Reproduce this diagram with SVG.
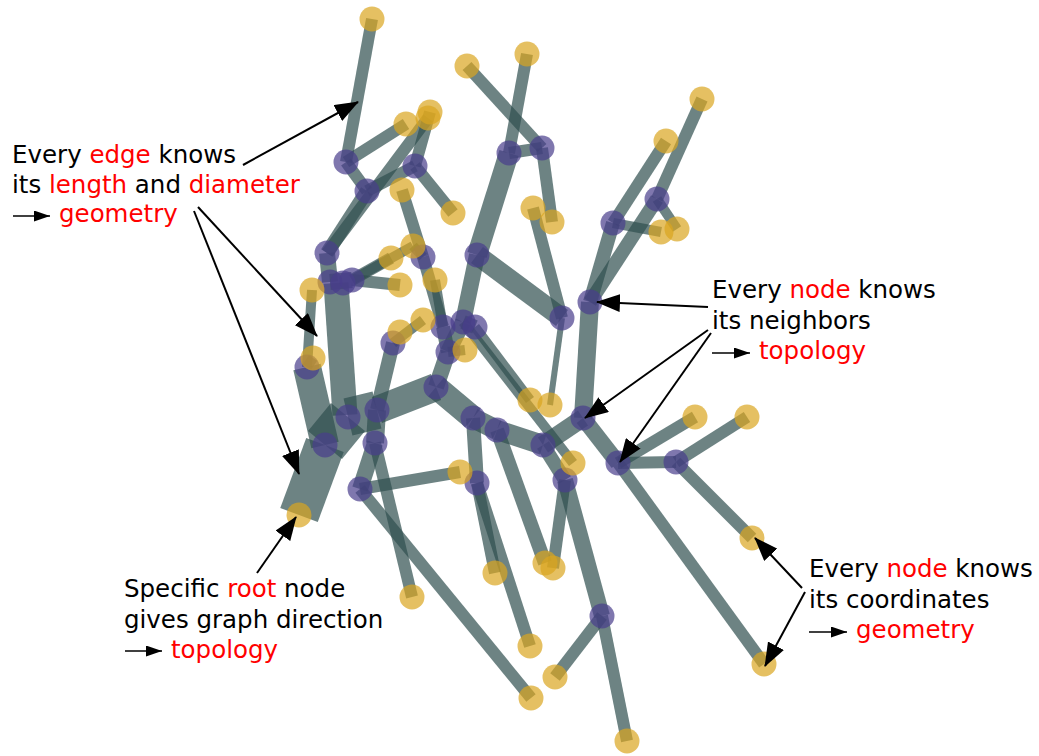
<svg xmlns="http://www.w3.org/2000/svg" width="1039" height="756" viewBox="0 0 1039 756">
  <style>
    .e { stroke: #2f4f4f; stroke-opacity: 0.7; stroke-linecap: butt; fill: none; }
    .inner { fill: #483d8b; fill-opacity: 0.7; }
    .leaf { fill: #daa520; fill-opacity: 0.7; }
    .lbl { font-family: "DejaVu Sans", sans-serif; font-size: 24.5px; fill: #000; }
    .hl { fill: #ff0000; }
    .ann { stroke: #000; stroke-width: 2; fill: none; }
    .imp { stroke: #000; stroke-width: 1.6; fill: none; }
  </style>
  <defs>
    <marker id="head" markerUnits="userSpaceOnUse" markerWidth="24" markerHeight="18" refX="23" refY="9" orient="auto">
      <path d="M0,0 L24,9 L0,18 z" fill="#000"/>
    </marker>
    <marker id="small-head" markerUnits="userSpaceOnUse" markerWidth="16" markerHeight="11" refX="16" refY="5.5" orient="auto">
      <path d="M0,0 L16,5.5 L0,11 z" fill="#000"/>
    </marker>
  </defs>

  <!-- tree edges, width follows diameter -->
  <g id="edges">
    <line class="e" x1="299" y1="515" x2="325" y2="445" stroke-width="40"/>
    <line class="e" x1="325" y1="445" x2="348" y2="417" stroke-width="44"/>
    <line class="e" x1="307" y1="367" x2="325" y2="445" stroke-width="28"/>
    <line class="e" x1="336" y1="283" x2="345" y2="415" stroke-width="25"/>
    <line class="e" x1="348" y1="417" x2="377" y2="410" stroke-width="38"/>
    <line class="e" x1="377" y1="410" x2="436" y2="387" stroke-width="28"/>
    <line class="e" x1="436" y1="387" x2="473" y2="418" stroke-width="24"/>
    <line class="e" x1="473" y1="418" x2="497" y2="430" stroke-width="20"/>
    <line class="e" x1="497" y1="430" x2="543" y2="445" stroke-width="20"/>
    <line class="e" x1="543" y1="445" x2="583" y2="418" stroke-width="18"/>
    <line class="e" x1="583" y1="418" x2="590" y2="302" stroke-width="18"/>
    <line class="e" x1="436" y1="387" x2="448" y2="352" stroke-width="16"/>
    <line class="e" x1="448" y1="352" x2="443" y2="327" stroke-width="14"/>
    <line class="e" x1="443" y1="327" x2="423" y2="257" stroke-width="12"/>
    <line class="e" x1="423" y1="257" x2="402" y2="190" stroke-width="12"/>
    <line class="e" x1="423" y1="257" x2="413" y2="246" stroke-width="10"/>
    <line class="e" x1="443" y1="327" x2="435" y2="280" stroke-width="10"/>
    <line class="e" x1="448" y1="352" x2="465" y2="350" stroke-width="10"/>
    <line class="e" x1="477" y1="255" x2="463" y2="322" stroke-width="16"/>
    <line class="e" x1="463" y1="322" x2="448" y2="352" stroke-width="16"/>
    <line class="e" x1="463" y1="322" x2="475" y2="327" stroke-width="14"/>
    <line class="e" x1="475" y1="327" x2="530" y2="400" stroke-width="10"/>
    <line class="e" x1="463" y1="322" x2="573" y2="463" stroke-width="10"/>
    <line class="e" x1="477" y1="255" x2="509" y2="153" stroke-width="20"/>
    <line class="e" x1="509" y1="153" x2="527" y2="54" stroke-width="12"/>
    <line class="e" x1="509" y1="153" x2="542" y2="148" stroke-width="12"/>
    <line class="e" x1="542" y1="148" x2="467" y2="66" stroke-width="12"/>
    <line class="e" x1="542" y1="148" x2="552" y2="222" stroke-width="12"/>
    <line class="e" x1="477" y1="255" x2="562" y2="318" stroke-width="20"/>
    <line class="e" x1="562" y1="318" x2="533" y2="208" stroke-width="12"/>
    <line class="e" x1="562" y1="318" x2="550" y2="405" stroke-width="6"/>
    <line class="e" x1="327" y1="253" x2="330" y2="282" stroke-width="16"/>
    <line class="e" x1="327" y1="253" x2="367" y2="191" stroke-width="14"/>
    <line class="e" x1="327" y1="253" x2="428" y2="118" stroke-width="12"/>
    <line class="e" x1="367" y1="191" x2="415" y2="166" stroke-width="12"/>
    <line class="e" x1="415" y1="166" x2="430" y2="112" stroke-width="12"/>
    <line class="e" x1="415" y1="166" x2="453" y2="213" stroke-width="12"/>
    <line class="e" x1="346" y1="162" x2="367" y2="191" stroke-width="12"/>
    <line class="e" x1="346" y1="162" x2="406" y2="124" stroke-width="12"/>
    <line class="e" x1="346" y1="162" x2="372" y2="19" stroke-width="12"/>
    <line class="e" x1="352" y1="280" x2="391" y2="258" stroke-width="12"/>
    <line class="e" x1="352" y1="280" x2="413" y2="246" stroke-width="10"/>
    <line class="e" x1="352" y1="280" x2="400" y2="285" stroke-width="12"/>
    <line class="e" x1="330" y1="282" x2="352" y2="280" stroke-width="16"/>
    <line class="e" x1="307" y1="367" x2="312" y2="290" stroke-width="10"/>
    <line class="e" x1="307" y1="367" x2="313" y2="358" stroke-width="10"/>
    <line class="e" x1="377" y1="410" x2="393" y2="343" stroke-width="14"/>
    <line class="e" x1="393" y1="343" x2="423" y2="320" stroke-width="10"/>
    <line class="e" x1="377" y1="410" x2="375" y2="443" stroke-width="18"/>
    <line class="e" x1="375" y1="443" x2="360" y2="489" stroke-width="16"/>
    <line class="e" x1="375" y1="443" x2="412" y2="597" stroke-width="12"/>
    <line class="e" x1="360" y1="489" x2="460" y2="472" stroke-width="12"/>
    <line class="e" x1="360" y1="489" x2="531" y2="698" stroke-width="12"/>
    <line class="e" x1="473" y1="418" x2="477" y2="483" stroke-width="14"/>
    <line class="e" x1="477" y1="483" x2="495" y2="573" stroke-width="12"/>
    <line class="e" x1="477" y1="483" x2="530" y2="646" stroke-width="12"/>
    <line class="e" x1="497" y1="430" x2="545" y2="563" stroke-width="14"/>
    <line class="e" x1="543" y1="445" x2="565" y2="480" stroke-width="14"/>
    <line class="e" x1="565" y1="480" x2="553" y2="568" stroke-width="12"/>
    <line class="e" x1="565" y1="480" x2="602" y2="616" stroke-width="16"/>
    <line class="e" x1="602" y1="616" x2="627" y2="741" stroke-width="12"/>
    <line class="e" x1="602" y1="616" x2="555" y2="677" stroke-width="12"/>
    <line class="e" x1="583" y1="418" x2="618" y2="463" stroke-width="16"/>
    <line class="e" x1="618" y1="463" x2="695" y2="417" stroke-width="12"/>
    <line class="e" x1="618" y1="463" x2="676" y2="462" stroke-width="12"/>
    <line class="e" x1="676" y1="462" x2="747" y2="417" stroke-width="12"/>
    <line class="e" x1="676" y1="462" x2="752" y2="538" stroke-width="12"/>
    <line class="e" x1="618" y1="463" x2="764" y2="664" stroke-width="12"/>
    <line class="e" x1="590" y1="302" x2="657" y2="199" stroke-width="14"/>
    <line class="e" x1="657" y1="199" x2="702" y2="99" stroke-width="12"/>
    <line class="e" x1="590" y1="302" x2="613" y2="223" stroke-width="14"/>
    <line class="e" x1="613" y1="223" x2="666" y2="141" stroke-width="12"/>
    <line class="e" x1="657" y1="199" x2="677" y2="229" stroke-width="10"/>
    <line class="e" x1="613" y1="223" x2="661" y2="232" stroke-width="10"/>
  </g>

  <!-- branching nodes -->
  <g id="inner-nodes">
    <circle id="n1" class="inner" cx="346" cy="162" r="12.5"/>
    <circle id="n2" class="inner" cx="367" cy="191" r="12.5"/>
    <circle id="n3" class="inner" cx="415" cy="166" r="12.5"/>
    <circle id="n4" class="inner" cx="327" cy="253" r="12.5"/>
    <circle id="n5" class="inner" cx="330" cy="282" r="12.5"/>
    <circle id="n6" class="inner" cx="343" cy="283" r="12.5"/>
    <circle id="n7" class="inner" cx="352" cy="280" r="12.5"/>
    <circle id="n8" class="inner" cx="307" cy="367" r="12.5"/>
    <circle id="n9" class="inner" cx="393" cy="343" r="12.5"/>
    <circle id="n10" class="inner" cx="423" cy="257" r="12.5"/>
    <circle id="n11" class="inner" cx="443" cy="327" r="12.5"/>
    <circle id="n12" class="inner" cx="463" cy="322" r="12.5"/>
    <circle id="n13" class="inner" cx="475" cy="327" r="12.5"/>
    <circle id="n14" class="inner" cx="448" cy="352" r="12.5"/>
    <circle id="n15" class="inner" cx="436" cy="387" r="12.5"/>
    <circle id="n16" class="inner" cx="477" cy="255" r="12.5"/>
    <circle id="n17" class="inner" cx="509" cy="153" r="12.5"/>
    <circle id="n18" class="inner" cx="542" cy="148" r="12.5"/>
    <circle id="n19" class="inner" cx="562" cy="318" r="12.5"/>
    <circle id="n20" class="inner" cx="590" cy="302" r="12.5"/>
    <circle id="n21" class="inner" cx="613" cy="223" r="12.5"/>
    <circle id="n22" class="inner" cx="657" cy="199" r="12.5"/>
    <circle id="n23" class="inner" cx="325" cy="445" r="12.5"/>
    <circle id="n24" class="inner" cx="348" cy="417" r="12.5"/>
    <circle id="n25" class="inner" cx="377" cy="410" r="12.5"/>
    <circle id="n26" class="inner" cx="375" cy="443" r="12.5"/>
    <circle id="n27" class="inner" cx="360" cy="489" r="12.5"/>
    <circle id="n28" class="inner" cx="473" cy="418" r="12.5"/>
    <circle id="n29" class="inner" cx="497" cy="430" r="12.5"/>
    <circle id="n30" class="inner" cx="543" cy="445" r="12.5"/>
    <circle id="n31" class="inner" cx="583" cy="418" r="12.5"/>
    <circle id="n32" class="inner" cx="618" cy="463" r="12.5"/>
    <circle id="n33" class="inner" cx="676" cy="462" r="12.5"/>
    <circle id="n34" class="inner" cx="477" cy="483" r="12.5"/>
    <circle id="n35" class="inner" cx="565" cy="480" r="12.5"/>
    <circle id="n36" class="inner" cx="602" cy="616" r="12.5"/>
  </g>

  <!-- end points and root -->
  <g id="leaf-nodes">
    <circle id="root" class="leaf" cx="299" cy="515" r="12.5"/>
    <circle id="l1" class="leaf" cx="372" cy="19" r="12.5"/>
    <circle id="l2" class="leaf" cx="467" cy="66" r="12.5"/>
    <circle id="l3" class="leaf" cx="527" cy="54" r="12.5"/>
    <circle id="l4" class="leaf" cx="406" cy="124" r="12.5"/>
    <circle id="l5" class="leaf" cx="430" cy="112" r="12.5"/>
    <circle id="l6" class="leaf" cx="428" cy="118" r="12.5"/>
    <circle id="l7" class="leaf" cx="402" cy="190" r="12.5"/>
    <circle id="l8" class="leaf" cx="453" cy="213" r="12.5"/>
    <circle id="l9" class="leaf" cx="533" cy="208" r="12.5"/>
    <circle id="l10" class="leaf" cx="552" cy="222" r="12.5"/>
    <circle id="l11" class="leaf" cx="702" cy="99" r="12.5"/>
    <circle id="l12" class="leaf" cx="666" cy="141" r="12.5"/>
    <circle id="l13" class="leaf" cx="661" cy="232" r="12.5"/>
    <circle id="l14" class="leaf" cx="677" cy="229" r="12.5"/>
    <circle id="l15" class="leaf" cx="312" cy="290" r="12.5"/>
    <circle id="l16" class="leaf" cx="391" cy="258" r="12.5"/>
    <circle id="l17" class="leaf" cx="413" cy="246" r="12.5"/>
    <circle id="l18" class="leaf" cx="400" cy="285" r="12.5"/>
    <circle id="l19" class="leaf" cx="435" cy="280" r="12.5"/>
    <circle id="l20" class="leaf" cx="313" cy="358" r="12.5"/>
    <circle id="l21" class="leaf" cx="400" cy="332" r="12.5"/>
    <circle id="l22" class="leaf" cx="423" cy="320" r="12.5"/>
    <circle id="l23" class="leaf" cx="465" cy="350" r="12.5"/>
    <circle id="l24" class="leaf" cx="530" cy="400" r="12.5"/>
    <circle id="l25" class="leaf" cx="550" cy="405" r="12.5"/>
    <circle id="l26" class="leaf" cx="573" cy="463" r="12.5"/>
    <circle id="l27" class="leaf" cx="695" cy="417" r="12.5"/>
    <circle id="l28" class="leaf" cx="747" cy="417" r="12.5"/>
    <circle id="l29" class="leaf" cx="460" cy="472" r="12.5"/>
    <circle id="l30" class="leaf" cx="495" cy="573" r="12.5"/>
    <circle id="l31" class="leaf" cx="545" cy="563" r="12.5"/>
    <circle id="l32" class="leaf" cx="553" cy="568" r="12.5"/>
    <circle id="l33" class="leaf" cx="412" cy="597" r="12.5"/>
    <circle id="l34" class="leaf" cx="530" cy="646" r="12.5"/>
    <circle id="l35" class="leaf" cx="555" cy="677" r="12.5"/>
    <circle id="l36" class="leaf" cx="531" cy="698" r="12.5"/>
    <circle id="l37" class="leaf" cx="627" cy="741" r="12.5"/>
    <circle id="l38" class="leaf" cx="752" cy="538" r="12.5"/>
    <circle id="l39" class="leaf" cx="764" cy="664" r="12.5"/>
  </g>

  <!-- annotation pointers -->
  <g id="pointers">
    <line class="ann" x1="243" y1="165" x2="358" y2="102" marker-end="url(#head)"/>
    <line class="ann" x1="198" y1="207" x2="317" y2="336" marker-end="url(#head)"/>
    <line class="ann" x1="194" y1="211" x2="299" y2="474" marker-end="url(#head)"/>
    <line class="ann" x1="257" y1="573" x2="296" y2="517" marker-end="url(#head)"/>
    <line class="ann" x1="708" y1="307" x2="597" y2="302" marker-end="url(#head)"/>
    <line class="ann" x1="708" y1="330" x2="585" y2="418" marker-end="url(#head)"/>
    <line class="ann" x1="711" y1="333" x2="620" y2="462" marker-end="url(#head)"/>
    <line class="ann" x1="802" y1="588" x2="755" y2="538" marker-end="url(#head)"/>
    <line class="ann" x1="805" y1="592" x2="765" y2="666" marker-end="url(#head)"/>
  </g>

  <!-- "implies" arrows in front of the last label lines -->
  <g id="implies">
    <line class="imp" x1="13" y1="216" x2="50" y2="216" marker-end="url(#small-head)"/>
    <line class="imp" x1="712" y1="353" x2="750" y2="353" marker-end="url(#small-head)"/>
    <line class="imp" x1="125" y1="651" x2="162" y2="651" marker-end="url(#small-head)"/>
    <line class="imp" x1="809" y1="632" x2="847" y2="632" marker-end="url(#small-head)"/>
  </g>

  <g id="label-edge" class="lbl">
    <text x="12" y="163">Every <tspan class="hl">edge</tspan> knows</text>
    <text x="12" y="192.5">its <tspan class="hl">length</tspan> and <tspan class="hl">diameter</tspan></text>
    <text x="59" y="222" class="hl">geometry</text>
  </g>
  <g id="label-neighbors" class="lbl">
    <text x="712" y="298">Every <tspan class="hl">node</tspan> knows</text>
    <text x="712" y="328.5">its neighbors</text>
    <text x="759" y="359" class="hl">topology</text>
  </g>
  <g id="label-root" class="lbl">
    <text x="124" y="597">Specific <tspan class="hl">root</tspan> node</text>
    <text x="124" y="627.5">gives graph direction</text>
    <text x="171" y="658" class="hl">topology</text>
  </g>
  <g id="label-coords" class="lbl">
    <text x="809" y="577">Every <tspan class="hl">node</tspan> knows</text>
    <text x="809" y="607.5">its coordinates</text>
    <text x="856" y="638" class="hl">geometry</text>
  </g>
</svg>
